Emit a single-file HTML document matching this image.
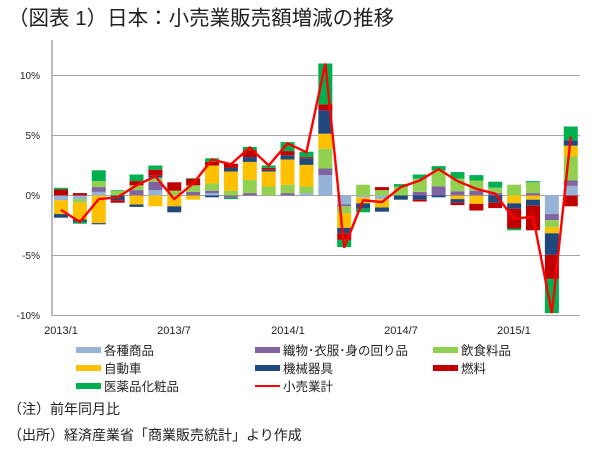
<!DOCTYPE html>
<html><head><meta charset="utf-8">
<style>
body{margin:0;width:600px;height:450px;background:#fff;overflow:hidden;font-family:"Liberation Sans","Noto Sans CJK JP",sans-serif;}
</style></head><body>
<svg id="s" width="600" height="450" xmlns="http://www.w3.org/2000/svg" font-family="Liberation Sans, Noto Sans CJK JP, sans-serif">
<text x="8" y="25" font-size="20.5" fill="#222">（図表 1）日本：小売業販売額増減の推移</text>
<g stroke="#a6a6a6" stroke-width="1">
<line x1="52" y1="75.5" x2="580" y2="75.5"/>
<line x1="52" y1="135.5" x2="580" y2="135.5"/>
<line x1="52" y1="255.5" x2="580" y2="255.5"/>
<line x1="52" y1="315.5" x2="580" y2="315.5"/>
<line x1="52" y1="195.5" x2="580" y2="195.5"/>
<line x1="52" y1="40" x2="52" y2="316" stroke-width="1.5"/>
</g>
<g font-size="10" fill="#222" text-anchor="end">
<text x="40" y="79">10%</text><text x="40" y="139">5%</text><text x="40" y="199">0%</text>
<text x="40" y="259">-5%</text><text x="40" y="319">-10%</text>
</g>
<g id="bars"></g>
<g font-size="11" fill="#222" text-anchor="middle">
<text x="61" y="334">2013/1</text><text x="174" y="334">2013/7</text><text x="288" y="334">2014/1</text>
<text x="401" y="334">2014/7</text><text x="514" y="334">2015/1</text>
</g>
<g font-size="12.5" fill="#222">
<rect x="76" y="347" width="25" height="6" fill="#95b3d7"/><text x="104" y="355">各種商品</text>
<rect x="255" y="347" width="25" height="6" fill="#8064a2"/><text x="283" y="355">織物･衣服･身の回り品</text>
<rect x="433" y="347" width="25" height="6" fill="#92d050"/><text x="461" y="355">飲食料品</text>
<rect x="76" y="365" width="25" height="6" fill="#ffc000"/><text x="104" y="373">自動車</text>
<rect x="255" y="365" width="25" height="6" fill="#1f497d"/><text x="283" y="373">機械器具</text>
<rect x="433" y="365" width="25" height="6" fill="#c00000"/><text x="461" y="373">燃料</text>
<rect x="76" y="383" width="25" height="6" fill="#00b050"/><text x="104" y="391">医薬品化粧品</text>
<line x1="255" y1="386" x2="280" y2="386" stroke="#ff0000" stroke-width="2"/><text x="283" y="391">小売業計</text>
</g>
<g font-size="14" fill="#222">
<text x="8" y="414">（注）前年同月比</text>
<text x="8" y="440">（出所）経済産業省「商業販売統計」より作成</text>
</g>
</svg>
<script>
var C=["#95b3d7","#8064a2","#92d050","#ffc000","#1f497d","#c00000","#00b050"];
var D=[
[[-0.4,0,0,-1.15,-0.3,0.5,0.14],-1.2],
[[-0.3,0,-0.3,-1.4,-0.2,0.2,-0.15],-2.2],
[[0.3,0.4,0.5,-2.3,-0.1,0,0.9],-0.3],
[[0,0,0.4,0,-0.4,-0.2,0.05],-0.15],
[[0,0.45,0.4,-0.75,-0.2,0.35,0.55],0.85],
[[0.45,0.7,0.35,-0.9,0.15,0.5,0.35],1.6],
[[0,0,0.4,-0.9,-0.5,0.7,0],-0.3],
[[0,0.3,0.55,-0.35,0,0.55,0.05],1.0],
[[0.2,0.2,0.6,1.5,-0.15,0.3,0.3],3.0],
[[0,-0.2,0.4,1.6,0.3,0.35,-0.1],2.6],
[[0,0.2,1.1,1.5,0.4,0.55,0.3],4.0],
[[0,0,0.75,1.25,0.15,0.15,0.2],2.5],
[[0,0.2,0.7,2.1,0.35,0.35,0.75],4.35],
[[0.2,0,0.55,1.8,0.55,0.1,0.45],3.6],
[[1.7,0.55,1.65,1.25,1.95,0.5,3.4],11.0],
[[-0.75,-0.15,-0.6,-1.2,-0.45,-0.55,-0.6],-4.35],
[[-0.15,0,0.9,-0.5,-0.45,0,-0.3],-0.4],
[[-0.3,0,0.45,-0.7,-0.35,0.25,0],-0.55],
[[0,0,0.75,0,-0.35,0,0.2],0.7],
[[0,0.3,1.1,0,-0.35,-0.15,0.35],1.25],
[[0,0.75,1.35,0,-0.15,0,0.35],2.2],
[[0,0.35,1.05,-0.3,-0.3,-0.2,0.55],1.2],
[[0,0.4,0.85,-0.7,0,-0.55,0.45],0.55],
[[0,0.2,0.45,0,-0.6,-0.45,0.5],0.15],
[[0,0,0.9,-0.65,-0.45,-1.65,-0.15],-1.95],
[[0,0.2,0.9,-0.35,-0.5,-2.05,0.1],-1.75],
[[-1.55,-0.5,-0.6,-0.5,-1.8,-2.0,-2.85],-9.8],
[[0.8,0.45,2.0,0.9,0.45,-0.9,1.15],4.9]];
var g=document.getElementById("bars"),h="",pts=[];
D.forEach(function(d,i){var cx=61+i*18.88,p=0,n=0;
d[0].forEach(function(v,k){if(!v)return;var y0,y1;
if(v>0){y0=195.5-(p+v)*12;y1=195.5-p*12;p+=v;}else{y0=195.5+n*12;y1=195.5+(n-v)*12;n-=v;}
h+='<rect x="'+(cx-7)+'" y="'+y0+'" width="14" height="'+(y1-y0)+'" fill="'+C[k]+'"/>';});
pts.push(cx+","+(195.5-d[1]*12));});
h+='<polyline points="'+pts.join(" ")+'" fill="none" stroke="#ff0000" stroke-width="2.4" stroke-linejoin="miter"/>';
g.innerHTML=h;
</script>
</body></html>
